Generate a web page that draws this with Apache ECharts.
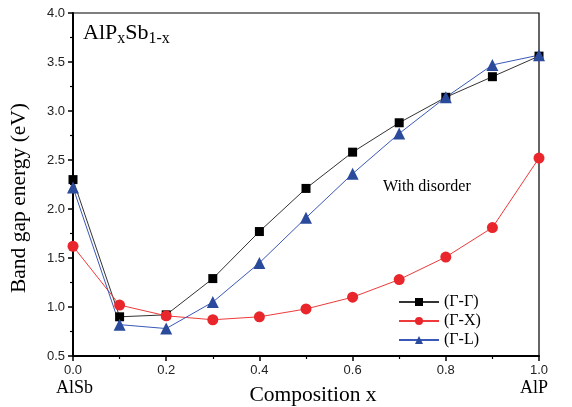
<!DOCTYPE html>
<html><head><meta charset="utf-8">
<script src="https://cdn.jsdelivr.net/npm/echarts@6/dist/echarts.min.js"></script>
<style>html,body{margin:0;padding:0;background:#fff}#c{width:572px;height:407px}</style>
</head><body><div id="c"></div>
<script>
const compositions = [0.0, 0.1, 0.2, 0.3, 0.4, 0.5, 0.6, 0.7, 0.8, 0.9, 1.0];
const gammaGamma = [2.30, 0.90, 0.92, 1.29, 1.77, 2.21, 2.58, 2.88, 3.14, 3.35, 3.56];
const gammaX = [1.62, 1.02, 0.91, 0.87, 0.90, 0.98, 1.10, 1.28, 1.51, 1.81, 2.52];
const gammaL = [2.22, 0.82, 0.78, 1.05, 1.45, 1.91, 2.36, 2.77, 3.14, 3.47, 3.57];
const seriesNames = ['(Γ-Γ)', '(Γ-X)', '(Γ-L)'];

const serif = '"Liberation Serif", "DejaVu Serif", serif';
const sans = '"Liberation Sans", Arial, sans-serif';
const pair = arr => compositions.map((x, i) => [x, arr[i]]);

const chart = echarts.init(document.getElementById('c'));
chart.setOption({
  animation: false,
  backgroundColor: '#fff',
  grid: { left: 73, right: 33, top: 13, bottom: 51, show: true, borderColor: '#000', borderWidth: 1.2, backgroundColor: 'transparent' },
  xAxis: {
    type: 'value', min: 0, max: 1, interval: 0.2,
    axisLine: { lineStyle: { color: '#000', width: 2 } },
    axisTick: { inside: false, length: 5, lineStyle: { color: '#000', width: 1.5 } },
    minorTick: { show: true, splitNumber: 2, length: 3, lineStyle: { color: '#000', width: 1.2 } },
    splitLine: { show: false },
    axisLabel: { fontFamily: sans, fontSize: 13, color: '#222', margin: 8, formatter: v => v.toFixed(1) }
  },
  yAxis: {
    type: 'value', min: 0.5, max: 4.0, interval: 0.5,
    axisLine: { lineStyle: { color: '#000', width: 2 } },
    axisTick: { inside: false, length: 5, lineStyle: { color: '#000', width: 1.5 } },
    minorTick: { show: true, splitNumber: 2, length: 3, lineStyle: { color: '#000', width: 1.2 } },
    splitLine: { show: false },
    axisLabel: { fontFamily: sans, fontSize: 13, color: '#222', margin: 8, formatter: v => v.toFixed(1) }
  },
  legend: {
    orient: 'vertical', left: 393, top: 289, itemGap: 3, itemWidth: 40, itemHeight: 10,
    textStyle: { fontFamily: serif, fontSize: 16, color: '#000' },
    data: seriesNames
  },
  graphic: [
    { type: 'text', x: 313, y: 395, style: { text: 'Composition x', fontFamily: serif, fontSize: 21.5, fill: '#000', align: 'center', verticalAlign: 'middle' } },
    { type: 'text', x: 19, y: 198, rotation: Math.PI / 2, style: { text: 'Band gap energy (eV)', fontFamily: serif, fontSize: 21.5, fill: '#000', align: 'center', verticalAlign: 'middle' } },
    { type: 'text', left: 83, top: 22, style: { rich: {
        b: { fontFamily: serif, fontSize: 22, fill: '#000' },
        s: { fontFamily: serif, fontSize: 16, fill: '#000', verticalAlign: 'bottom', padding: [12, 0, 0, 0] } },
      text: '{b|AlP}{s|x}{b|Sb}{s|1-x}' } },
    { type: 'text', left: 383, top: 179, style: { text: 'With disorder', fontFamily: serif, fontSize: 16, fill: '#000' } },
    { type: 'text', left: 56, top: 379, style: { text: 'AlSb', fontFamily: serif, fontSize: 18, fill: '#000' } },
    { type: 'text', left: 520, top: 379, style: { text: 'AlP', fontFamily: serif, fontSize: 18, fill: '#000' } }
  ],
  series: [
    { name: seriesNames[0], type: 'line', data: pair(gammaGamma), symbol: 'rect', symbolSize: 9,
      itemStyle: { color: '#000' }, lineStyle: { color: '#333', width: 1 } },
    { name: seriesNames[1], type: 'line', data: pair(gammaX), symbol: 'circle', symbolSize: 11,
      itemStyle: { color: '#e8262b' }, lineStyle: { color: '#ee3a3a', width: 1 } },
    { name: seriesNames[2], type: 'line', data: pair(gammaL), symbol: 'triangle', symbolSize: 12,
      itemStyle: { color: '#2a4a9c' }, lineStyle: { color: '#3a58b8', width: 1 } }
  ]
});
</script></body></html>
